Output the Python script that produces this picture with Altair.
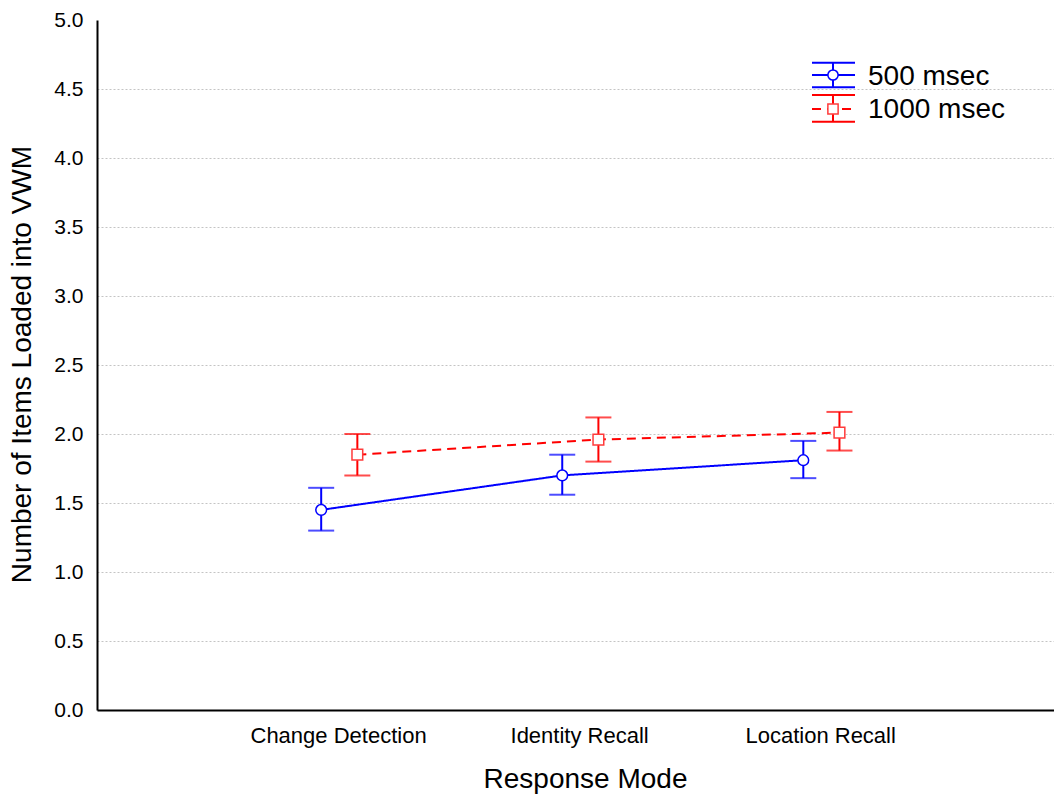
import altair as alt
import pandas as pd

# Mean number of items loaded into VWM, with error-bar limits, per response mode
categories = ["Change Detection", "Identity Recall", "Location Recall"]
series_names = ["500 msec", "1000 msec"]

means_500 = [1.45, 1.70, 1.81]
lower_500 = [1.30, 1.56, 1.68]
upper_500 = [1.61, 1.85, 1.95]

means_1000 = [1.85, 1.96, 2.01]
lower_1000 = [1.70, 1.80, 1.88]
upper_1000 = [2.00, 2.12, 2.16]

y_ticks = [0.0, 0.5, 1.0, 1.5, 2.0, 2.5, 3.0, 3.5, 4.0, 4.5, 5.0]

FONT = "Liberation Sans"
BLUE = "#0000ff"
RED = "#ff0000"
dodge = {"500 msec": -0.07, "1000 msec": 0.08}

rows = []
for name, m, lo, hi in [
    ("500 msec", means_500, lower_500, upper_500),
    ("1000 msec", means_1000, lower_1000, upper_1000),
]:
    for i, cat in enumerate(categories):
        rows.append({
            "series": name,
            "mode": cat,
            "pos": i + 1 + dodge[name],
            "mean": m[i],
            "lo": lo[i],
            "hi": hi[i],
        })
df = pd.DataFrame(rows)

label_expr = "[" + ",".join("'" + c + "'" for c in categories) + "][datum.value - 1]"

x_enc = alt.X(
    "pos:Q",
    scale=alt.Scale(domain=[0, 3.97], nice=False, zero=False),
    axis=alt.Axis(
        values=[1, 2, 3],
        labelExpr=label_expr,
        grid=False,
        ticks=False,
        tickSize=0,
        labelFontSize=22,
        labelPadding=15,
        labelFont=FONT,
        labelColor="black",
        domainColor="black",
        domainWidth=2,
        title="Response Mode",
        titleFont=FONT,
        titleFontSize=28,
        titleFontWeight="normal",
        titleColor="black",
        titleX=488,
        titleY=69,
        titleBaseline="middle",
    ),
)

y_scale = alt.Scale(domain=[0, 5], nice=False, zero=True)
y_enc = alt.Y(
    "mean:Q",
    scale=y_scale,
    axis=alt.Axis(
        values=y_ticks,
        format=".1f",
        grid=True,
        gridColor="#c4c4c4",
        gridDash=[2, 2],
        gridWidth=1,
        gridOpacity={"condition": {"test": "datum.value >= 5 || datum.value <= 0", "value": 0}, "value": 1},
        ticks=False,
        tickSize=0,
        labelFontSize=21,
        labelPadding=14,
        labelFont=FONT,
        labelColor="black",
        domainColor="black",
        domainWidth=2,
        title="Number of Items Loaded into VWM",
        titleFont=FONT,
        titleFontSize=28,
        titleFontWeight="normal",
        titleColor="black",
        titleAngle=-90,
        titleX=-75,
        titleY=344,
        titleBaseline="middle",
        titleAlign="center",
    ),
)

color_scale = alt.Scale(domain=series_names, range=[BLUE, RED])
base = alt.Chart(df)

lines = base.mark_line(strokeWidth=2).encode(
    x=x_enc,
    y=y_enc,
    color=alt.Color("series:N", scale=color_scale, legend=None),
    strokeDash=alt.StrokeDash(
        "series:N",
        scale=alt.Scale(domain=series_names, range=[[1, 0], [9, 6]]),
        legend=None,
    ),
    detail="series:N",
)

stems = base.mark_rule(strokeWidth=2).encode(
    x="pos:Q",
    y=alt.Y("lo:Q", scale=y_scale),
    y2="hi:Q",
    color=alt.Color("series:N", scale=color_scale, legend=None),
)

caps_lo = base.mark_tick(orient="horizontal", size=26, thickness=2).encode(
    x="pos:Q",
    y=alt.Y("lo:Q", scale=y_scale),
    color=alt.Color("series:N", scale=color_scale, legend=None),
)
caps_hi = base.mark_tick(orient="horizontal", size=26, thickness=2).encode(
    x="pos:Q",
    y=alt.Y("hi:Q", scale=y_scale),
    color=alt.Color("series:N", scale=color_scale, legend=None),
)

markers = base.mark_point(filled=False, fill="white", fillOpacity=1, opacity=1, strokeWidth=1.5, size=115).encode(
    x="pos:Q",
    y=alt.Y("mean:Q", scale=y_scale),
    stroke=alt.Stroke("series:N", scale=alt.Scale(domain=series_names, range=[BLUE, "#ff3b3b"]), legend=None),
    shape=alt.Shape("series:N", scale=alt.Scale(domain=series_names, range=["circle", "square"]), legend=None),
)

# Hand-built key in the upper right: error-bar glyph, marker and label per series
one = alt.Data(values=[{}])
key_layers = []
key_rows = [
    ("500 msec", BLUE, BLUE, "circle", [1, 0], 55, 42.7, 67.3, 57),
    ("1000 msec", RED, "#ff3b3b", "square", [9, 6], 89, 75, 101.7, 90),
]
gx0, gx1, gxc, tx = 715, 758, 736, 771
for name, col, mcol, shp, dash, cy, ytop, ybot, ty in key_rows:
    for yy in (ytop, ybot):
        key_layers.append(
            alt.Chart(one).mark_rule(color=col, strokeWidth=2).encode(
                x=alt.value(gx0), x2=alt.value(gx1), y=alt.value(yy)
            )
        )
    key_layers.append(
        alt.Chart(one).mark_rule(color=col, strokeWidth=2).encode(
            x=alt.value(gxc), y=alt.value(ytop), y2=alt.value(ybot)
        )
    )
    key_layers.append(
        alt.Chart(one).mark_rule(color=col, strokeWidth=2, strokeDash=dash).encode(
            x=alt.value(gx0), x2=alt.value(gx1), y=alt.value(cy)
        )
    )
    key_layers.append(
        alt.Chart(one).mark_point(shape=shp, filled=False, fill="white", fillOpacity=1, opacity=1,
                                  stroke=mcol, strokeWidth=1.5, size=105).encode(
            x=alt.value(gxc), y=alt.value(cy)
        )
    )
    key_layers.append(
        alt.Chart(one).mark_text(text=name, font=FONT, fontSize=28, align="left", baseline="middle",
                                 color="black").encode(
            x=alt.value(tx), y=alt.value(ty)
        )
    )

chart = alt.layer(lines, stems, caps_lo, caps_hi, markers, *key_layers).properties(
    width=957,
    height=690,
    autosize=alt.AutoSizeParams(type="none"),
    padding={"left": 97, "top": 20, "right": 0, "bottom": 87},
    background="white",
).configure_view(stroke=None)

chart.save("out.html", embed_options={"renderer": "svg", "actions": False})
